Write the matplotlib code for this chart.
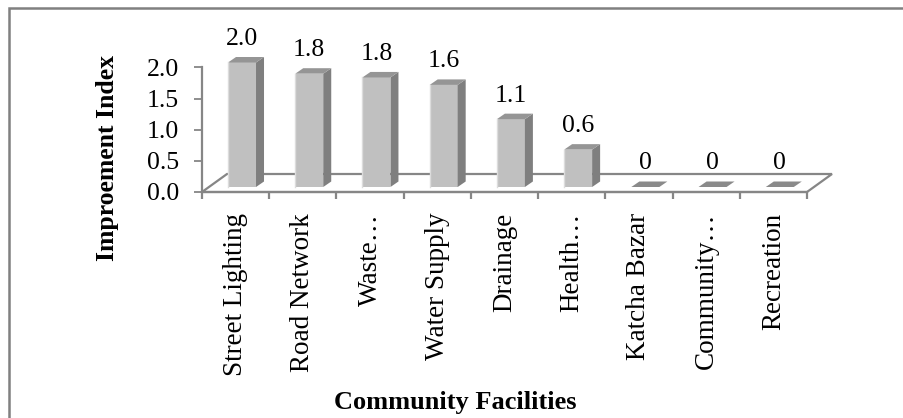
import matplotlib
matplotlib.use('Agg')
import matplotlib.pyplot as plt
from matplotlib.patches import Polygon, Rectangle
import numpy as np

plt.rcParams['font.family'] = ['Liberation Serif', 'DejaVu Serif']

# data
categories = ['Street Lighting', 'Road Network', 'Waste\u2026', 'Water Supply',
              'Drainage', 'Health\u2026', 'Katcha Bazar', 'Community\u2026', 'Recreation']
values = [2.0, 1.82, 1.76, 1.64, 1.09, 0.6, 0, 0, 0]
yticks = [0.0, 0.5, 1.0, 1.5, 2.0]

W, H = 904, 418
fig = plt.figure(figsize=(W / 100, H / 100), dpi=100)

# front plane of the pseudo-3D plot, placed in pixel terms
x0, x1, y0, y1 = 202, 807, 192, 67.5
ax = fig.add_axes([x0 / W, 1 - y0 / H, (x1 - x0) / W, (y0 - y1) / H])
ax.set_xlim(0, len(categories))
ax.set_ylim(0, 2)
ax.patch.set_visible(False)

pxx = (x1 - x0) / len(categories)   # pixels per category
pxy = (y0 - y1) / 2.0               # pixels per unit

gray = '#868686'
front_c, side_c, top_c = '#c0c0c0', '#7f7f7f', '#959595'

# floor (depth offset of the back edge)
fdx, fdy = 25 / pxx, 18 / pxy
n = len(categories)
floor = Polygon([(0, 0), (n, 0), (n + fdx, fdy), (fdx, fdy)], closed=True,
                facecolor='white', edgecolor=gray, lw=1.6, zorder=1, clip_on=False)
ax.add_patch(floor)

# bars: front face through ax.bar, side and top faces as polygons
shift, bw = 6.4 / pxx, 28 / pxx
base = 5 / pxy
dx, dy = 8 / pxx, 5.5 / pxy
xs = np.arange(n) + 0.5 + shift
ax.bar(xs, values, width=bw, bottom=base, color=front_c, edgecolor='none',
       zorder=3, clip_on=False)
for x, v in zip(xs, values):
    xl, xr = x - bw / 2, x + bw / 2
    t = base + v
    if v > 0:
        ax.add_patch(Polygon([(xr, base), (xr + dx, base + dy), (xr + dx, t + dy), (xr, t)],
                             closed=True, facecolor=side_c, edgecolor='none',
                             zorder=3, clip_on=False))
        ax.plot([xl, xl], [base, t], color='#dcdcdc', lw=1, zorder=4, clip_on=False)
    ax.add_patch(Polygon([(xl, t), (xr, t), (xr + dx, t + dy), (xl + dx, t + dy)],
                         closed=True, facecolor=top_c if v > 0 else '#8a8a8a',
                         edgecolor='none', zorder=3, clip_on=False))
    lab = '0' if v == 0 else f'{v:.1f}'
    ax.annotate(lab, (x, t), xytext=(0, 17), textcoords='offset points',
                ha='center', va='center', fontsize=18.5, zorder=5,
                annotation_clip=False)

# axes styling
for s in ['top', 'right']:
    ax.spines[s].set_visible(False)
ax.spines['left'].set_color(gray)
ax.spines['left'].set_linewidth(1.6)
ax.spines['bottom'].set_color(gray)
ax.spines['bottom'].set_linewidth(1.6)
ax.spines['bottom'].set_zorder(2)

ax.set_yticks(yticks)
ax.set_yticklabels([f'{t:.1f}' for t in yticks])
ax.tick_params(axis='y', length=5.5, width=1.3, color=gray, pad=11,
               labelsize=18.5, labelcolor='black')

ax.set_xticks(np.arange(n + 1))
ax.set_xticklabels([])
ax.tick_params(axis='x', which='major', length=5, width=1.6, color=gray)
ax.set_xticks(np.arange(n) + 0.5, minor=True)
ax.set_xticklabels(categories, minor=True, rotation=90, fontsize=19.5)
ax.tick_params(axis='x', which='minor', length=0, pad=15)

ax.set_ylabel('Improement Index', fontsize=18.5, fontweight='bold')
ax.yaxis.set_label_coords((119 - x0) / (x1 - x0), (y0 - 158) / (y0 - y1))

fig.text(455 / W, 1 - 403 / H, 'Community Facilities', ha='center', va='center',
         fontsize=19, fontweight='bold')

# chart border
fig.patches.append(Rectangle((8.5 / W, -0.1), 1.2, 1.1 - 8.5 / H, fill=False,
                             edgecolor='#808080', lw=1.8, transform=fig.transFigure))

fig.savefig('out.png', dpi=100, facecolor='white')
